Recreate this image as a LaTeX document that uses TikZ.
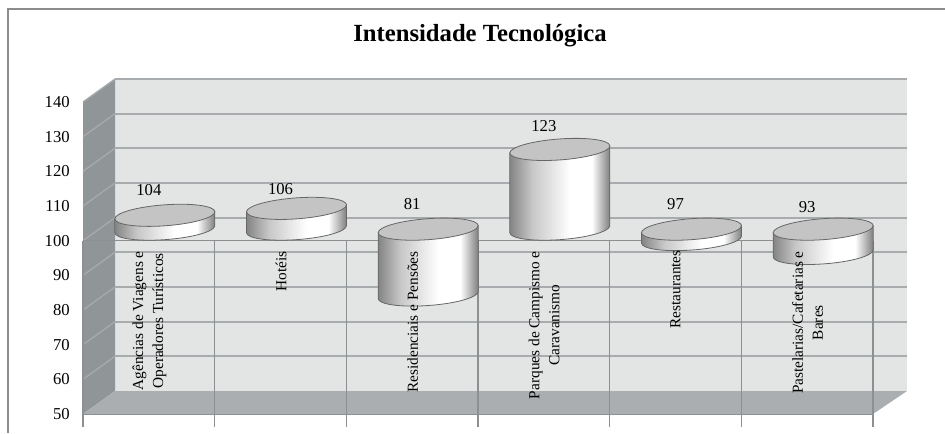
\documentclass[tikz,border=0pt]{standalone}
\usepackage{fontspec}
\setmainfont{Liberation Serif}

\definecolor{wallback}{HTML}{E3E4E4}
\definecolor{wallside}{HTML}{909597}
\definecolor{floorgray}{HTML}{ABAEB1}
\definecolor{gridgray}{HTML}{A9ACAE}
\definecolor{sidegray}{HTML}{A6AAAC}
\definecolor{axisgray}{HTML}{8C9092}
\definecolor{topgray}{HTML}{C4C4C4}
\definecolor{rimgray}{HTML}{666666}

\pgfdeclarehorizontalshading{cylside}{100bp}{color(0bp)=(black!48); color(25bp)=(black!48); color(36bp)=(black!22); color(55bp)=(white); color(66bp)=(white); color(75bp)=(black!50); color(100bp)=(black!50)}

\tikzset{
  gridline/.style={gridgray, line width=1.4pt},
  sidegrid/.style={sidegray, line width=1pt},
  axisline/.style={axisgray, line width=0.8pt},
  ticklabel/.style={anchor=east, inner sep=0pt, font=\fontsize{12.5}{15}\selectfont},
  vallabel/.style={inner sep=0pt, font=\fontsize{12.5}{15}\selectfont},
  catlabel/.style={rotate=90, anchor=east, align=center, inner sep=0pt,
    font=\fontsize{11.5}{15}\selectfont},
  cylbody/.style={shading=cylside, draw=rimgray, line width=0.6pt},
  cyltop/.style={fill=topgray, draw=rimgray, line width=0.6pt}
}

\begin{document}
\begin{tikzpicture}[x=0.75pt, y=0.75pt]
  \useasboundingbox (0,0) rectangle (945,433);
  % frame and title
  \draw[black!45, line width=0.8pt] (8,0) -- (8,424) -- (945,424);
  \node[anchor=base, font=\fontsize{18.5}{22}\selectfont\bfseries] (title) at (480,391) {Intensidade Tecnológica};

  % walls and floor
  \fill[wallback] (115,42) rectangle (907,354);
  \fill[wallside] (83,19) -- (83,331) -- (115,354) -- (115,42) -- cycle;
  \fill[floorgray] (83,19) -- (873,19) -- (907,42) -- (115,42) -- cycle;
  \draw[axisgray, line width=1.4pt] (83,18.5) -- (873,18.5);
  \foreach \k in {1,...,9}{
    \draw[gridline] (115,{42+\k*34.667}) -- (907,{42+\k*34.667});
    \draw[sidegrid] (83,{19+\k*34.667}) -- (115,{42+\k*34.667});
  }

  % category axis at 100
  \draw[axisline] (83,192.3) -- (873,192.3);
  \foreach \i in {0,...,6}
    \draw[axisline] ({83+\i*131.667},192.3) -- ({83+\i*131.667},6);

  % tick labels
  \foreach \v [count=\k from 0] in {50,60,...,140}
    \node[ticklabel] (y\v) at (70,{19+\k*34.667}) {\v};

  % cylinders
  \foreach \i/\val/\ly in {1/104/243, 2/106/244, 3/81/229, 4/123/306.5, 5/97/228.5, 6/93/226}{
    \pgfmathsetmacro{\cx}{83+(\i-0.5)*131.667}
    \pgfmathsetmacro{\ytop}{30.5+(max(\val,100)-50)*3.4667}
    \pgfmathsetmacro{\ybot}{30.5+(min(\val,100)-50)*3.4667}
    \begin{scope}[shift={(\cx+16,0)}, yslant=0.07]
      \path[cylbody] (-50,\ytop) -- (-50,\ybot)
        arc[start angle=180, end angle=360, x radius=50, y radius=10.5] -- (50,\ytop) -- cycle;
      \path[cyltop] (0,\ytop) ellipse [x radius=50, y radius=10.5];
    \end{scope}
    \node[vallabel] (v\i) at (\cx,\ly) {\val};
  }

  % category labels
  \node[catlabel] (c1) at (149.3,182) {Agências de Viagens e\\Operadores Turísticos};
  \node[catlabel] (c2) at (281,182) {Hotéis};
  \node[catlabel] (c3) at (412.5,182) {Residenciais e Pensões};
  \node[catlabel] (c4) at (544,182) {Parques de Campismo e\\Caravanismo};
  \node[catlabel] (c5) at (675.5,183) {Restaurantes};
  \node[catlabel] (c6) at (807.5,182) {Pastelarias/Cafetarias e\\Bares};
\end{tikzpicture}
\end{document}
